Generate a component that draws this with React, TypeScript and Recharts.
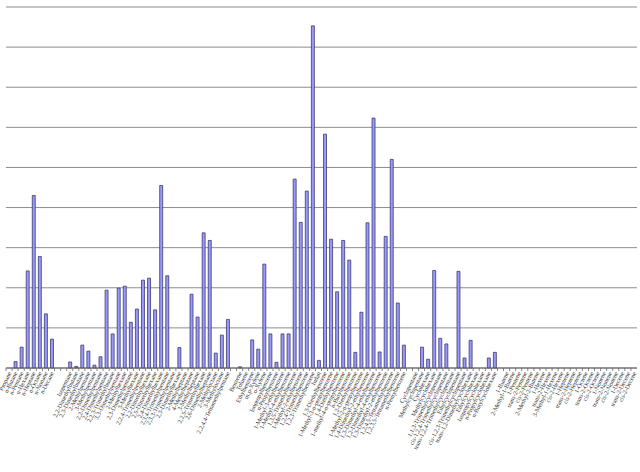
import { BarChart, Bar, XAxis, YAxis, CartesianGrid } from 'recharts'

// n-paraffins
const nParaffins = ['Propane', 'n-Butane', 'n-Pentane', 'n-Hexane', 'n-Heptane', 'n-Octane', 'n-Nonane', 'n-Decane']
const nParaffinValues = [0, 0.16, 0.52, 2.42, 4.3, 2.78, 1.35, 0.72]

// iso-paraffins
const isoParaffins = [
  'Isopentane', '2,2-Dimethylbutane', '2,3-Dimethylbutane', '2-Methylpentane', '3-Methylpentane',
  '2,2-Dimethylpentane', '2,4-Dimethylpentane', '2,2,3-Trimethylbutane', '3,3-Dimethylpentane',
  '2-Methylhexane', '2,3-Dimethylpentane', '3-Methylhexane', '2,2,4-Trimethylpentane',
  '2,2-Dimethylhexane', '2,5-Dimethylhexane', '2,4-Dimethylhexane', '2,3,4-Trimethylpentane',
  '2,3,3-Trimethylpentane', '2,3-Dimethylhexane', '2-Methylheptane', '4-Methylheptane',
  '3-Methylheptane', '2,2,5-Trimethylhexane', '2,6-Dimethylheptane', '2-Methyloctane',
  '3-Methyloctane', '2,2,4,4-Tetramethylpentane',
]
const isoParaffinValues = [
  0.15, 0.04, 0.57, 0.42, 0.07, 0.28, 1.94, 0.85, 1.99, 2.04, 1.14, 1.47, 2.19, 2.24,
  1.45, 4.55, 2.3, 0, 0.51, 0, 1.84, 1.27, 3.37, 3.18, 0.37, 0.82, 1.21,
]

// aromatics
const aromatics = [
  'Benzene', 'Toluene', 'Ethylbenzene', 'm,p-Xylene', 'o-Xylene', 'Isopropylbenzene',
  'n-Propylbenzene', '1-Methyl-3-ethylbenzene', '1-Methyl-4-ethylbenzene',
  '1,3,5-Trimethylbenzene', '1-Methyl-2-ethylbenzene', '1,2,4-Trimethylbenzene',
  '1,2,3-Trimethylbenzene', 'Indan', '1,3-Diethylbenzene', '1-Methyl-3-n-propylbenzene',
  '1,4-Diethylbenzene', '1-methyl-4-n-propylbenzene', 'n-Butylbenzene', '1,2-Diethylbenzene',
  '1-Methyl-2-n-propylbenzene', '1,4-Dimethyl-2-ethylbenzene', '1,3-Dimethyl-4-ethylbenzene',
  '1,2-Dimethyl-4-ethylbenzene', '1,3-Dimethyl-2-ethylbenzene', '1,2,4,5-Tetramethylbenzene',
  '1,2,3,5-Tetramethylbenzene', 'n-Pentylbenzene',
]
const aromaticValues = [
  0.03, 0, 0.7, 0.47, 2.59, 0.85, 0.14, 0.85, 0.85, 4.71, 3.63, 4.41, 8.53, 0.19,
  5.83, 3.21, 1.9, 3.18, 2.69, 0.39, 1.39, 3.62, 6.23, 0.4, 3.28, 5.2, 1.62, 0.57,
]

// naphthenes
const naphthenes = [
  'Cyclopentane', 'Methylcyclopentane', 'Cyclohexane', 'Methylcyclohexane',
  '1,1,3-Trimethylcyclopentane', 'cis-1,2,4-Trimethylcyclopentane', 'trans-1,2,4-Trimethylcyclopentane',
  'Ethylcyclopentane', 'cis-1,2,3-Trimethylcyclopentane', 'trans-1,2-Dimethylcyclohexane',
  'Ethylcyclohexane', 'Isopropylcyclohexane', 'n-Propylcyclohexane', 'n-Butylcyclohexane',
]
const naphtheneValues = [0, 0.52, 0.22, 2.43, 0.74, 0.6, 0, 2.41, 0.25, 0.69, 0, 0, 0.25, 0.39]

// olefins
const olefins = [
  '1-Butene', '2-Methyl-1-Butene', '1-Pentene', 'trans-2-Pentene', 'cis-2-Pentene',
  '2-Methyl-2-Butene', '1-Hexene', 'trans-2-Hexene', '3-Methyl-1-Hexene', 'cis-2-Hexene',
  '1-Heptene', 'trans-2-Heptene', 'cis-2-Heptene', '1-Octene', 'trans-2-Octene',
  'cis-2-Octene', '1-Nonene', 'trans-2-Nonene', 'cis-2-Nonene', '1-Decene',
  'trans-2-Decene', 'cis-2-Decene',
]
const olefinValues = olefins.map(() => 0)

const yTicks = [0, 1, 2, 3, 4, 5, 6, 7, 8, 9]

const gap = (n: number) => ({ names: Array(n).fill(''), values: Array(n).fill(0) })

const groups = [
  { names: nParaffins, values: nParaffinValues },
  gap(2),
  { names: isoParaffins, values: isoParaffinValues },
  gap(1),
  { names: aromatics, values: aromaticValues },
  gap(1),
  { names: naphthenes, values: naphtheneValues },
  gap(1),
  { names: olefins, values: olefinValues },
]

const data = groups.flatMap((g) => g.names.map((name, i) => ({ name, value: g.values[i] })))

const W = 640
const H = 472
const M = { top: 7, right: 3, left: 6, bottom: 0 }
const band = (W - M.left - M.right) / data.length

function CategoryTick(props: any) {
  const { x, y, payload } = props
  const bx = x - band / 2
  const tx = x + 2.5
  const ty = y + 2
  return (
    <g>
      <line x1={bx} y1={y - 3} x2={bx} y2={y} stroke="#666" strokeWidth={0.8} />
      <text
        x={tx}
        y={ty}
        textAnchor="end"
        fontSize={6.2}
        fill="#333"
        fontFamily="'Liberation Serif', serif"
        transform={`rotate(-64 ${tx} ${ty})`}
      >
        {payload.value}
      </text>
    </g>
  )
}

export default function App() {
  return (
    <div style={{ position: 'absolute', left: 0, top: 0, background: '#fff' }}>
      <BarChart width={W} height={H} data={data} margin={M} barSize={3}>
        <CartesianGrid vertical={false} stroke="#8c8c8c" />
        <XAxis
          dataKey="name"
          interval={0}
          height={H - M.top - 361}
          tickLine={false}
          tickSize={3}
          tickMargin={0}
          axisLine={{ stroke: '#666' }}
          tick={<CategoryTick />}
        />
        <YAxis
          width={0}
          domain={[0, 9]}
          ticks={yTicks}
          interval={0}
          tick={{ fill: '#eeeeee', fontSize: 6 }}
          tickLine={false}
          axisLine={{ stroke: '#c4c4c4', strokeWidth: 2 }}
        />
        <Bar dataKey="value" fill="#9999ff" stroke="#2a2a5a" strokeWidth={0.7} isAnimationActive={false} />
      </BarChart>
    </div>
  )
}
